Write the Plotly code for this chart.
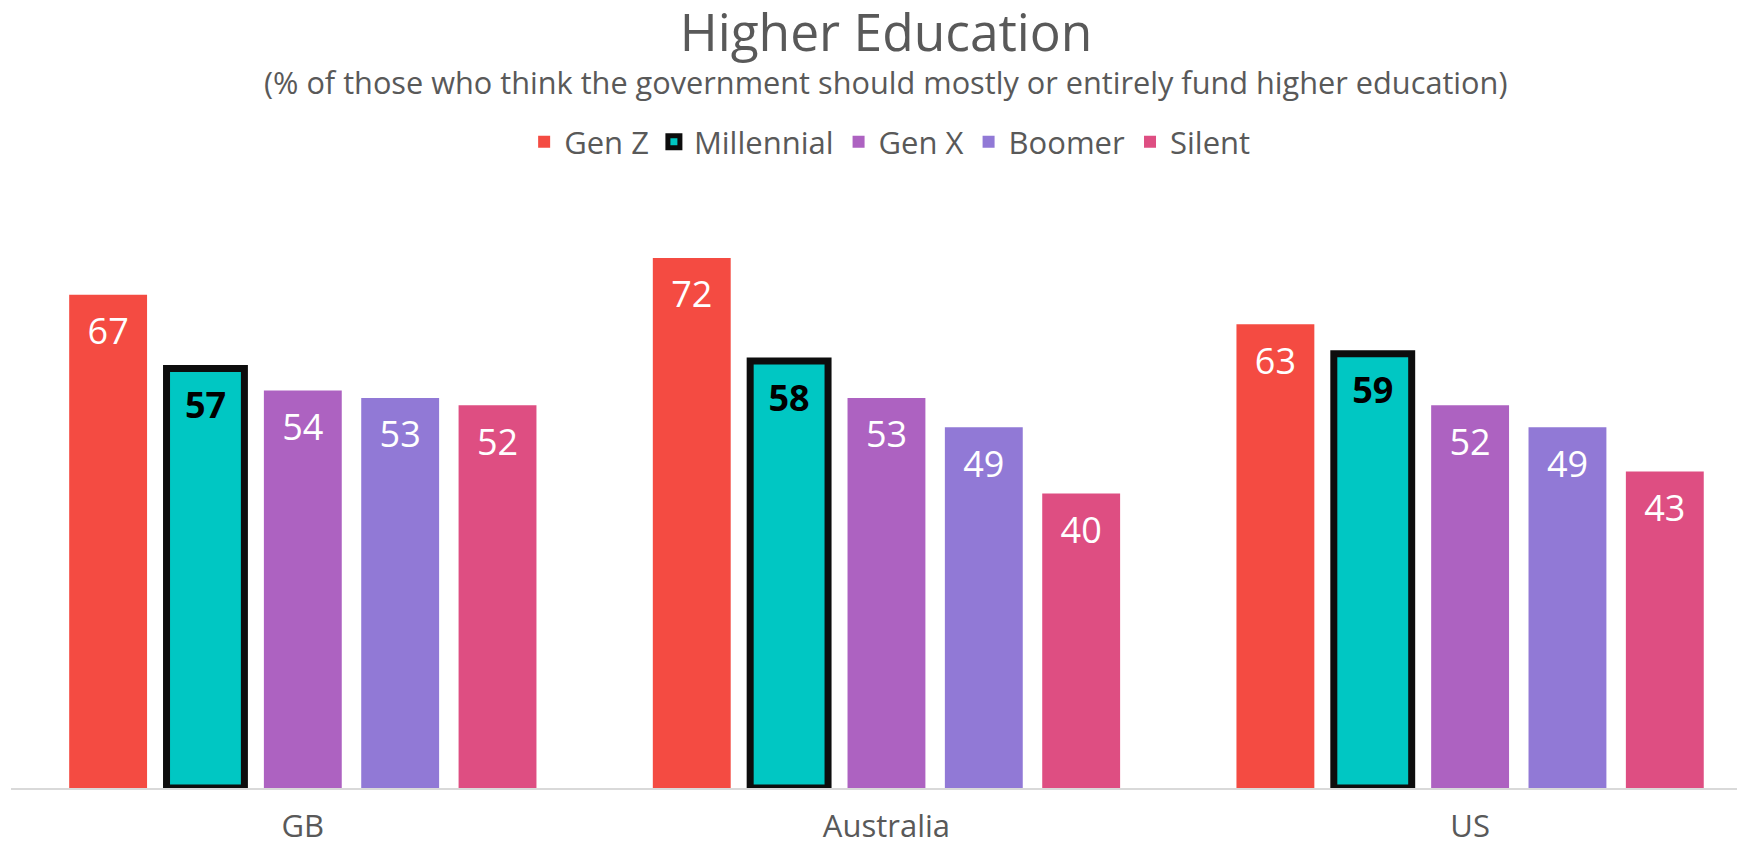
import plotly.graph_objects as go

countries = ["GB", "Australia", "US"]
series_names = ["Gen Z", "Millennial", "Gen X", "Boomer", "Silent"]
gen_z = [67, 72, 63]
millennial = [57, 58, 59]
gen_x = [54, 53, 52]
boomer = [53, 49, 49]
silent = [52, 40, 43]

values = [gen_z, millennial, gen_x, boomer, silent]
colors = ["#F44B42", "#00C7C3", "#AD62C1", "#9179D6", "#DE4E82"]

FONT = "Open Sans"
GRAY = "#595959"
LABEL_PAD = 1.15  # label offset below bar top, in data units (styling only)

fig = go.Figure()
for i, (name, vals, col) in enumerate(zip(series_names, values, colors)):
    is_mil = name == "Millennial"
    fig.add_trace(go.Bar(
        x=countries, y=vals, name=name, offsetgroup=str(i),
        marker=dict(color=col,
                    line=dict(color="#0D0D0D" if is_mil else col, width=7 if is_mil else 0)),
        hoverinfo="skip",
    ))
for i, (name, vals, col) in enumerate(zip(series_names, values, colors)):
    is_mil = name == "Millennial"
    fig.add_trace(go.Bar(
        x=countries, y=[v - LABEL_PAD for v in vals], offsetgroup=str(i),
        showlegend=False, hoverinfo="skip",
        marker=dict(color="rgba(0,0,0,0)", line=dict(width=0)),
        text=[str(v) for v in vals], textposition="inside", insidetextanchor="end",
        textangle=0, constraintext="none",
        insidetextfont=dict(family=FONT, size=36,
                            color="#000000" if is_mil else "#FFFFFF",
                            weight="bold" if is_mil else "normal"),
    ))

fig.update_layout(
    width=1737, height=836,
    paper_bgcolor="white", plot_bgcolor="white",
    barmode="group", bargap=0.166, bargroupgap=0.2,
    margin=dict(l=3, r=0, t=172, b=56, autoexpand=False),
    font=dict(family=FONT, color=GRAY),
    title=dict(text="Higher Education", x=0.5055, xanchor="center",
               y=0.9920, yanchor="top", yref="container",
               font=dict(family=FONT, size=51.5, color=GRAY)),
    legend=dict(orientation="h", x=0.507, xanchor="center", y=1.0625, yanchor="middle",
                yref="paper", font=dict(family=FONT, size=31, color=GRAY),
                itemwidth=30, bgcolor="rgba(0,0,0,0)"),
    xaxis=dict(range=[-0.5, 2.471], showgrid=False, showline=True,
               linecolor="#D9D9D9", linewidth=2, ticks="", ticklabelstandoff=10,
               tickfont=dict(family=FONT, size=31, color=GRAY)),
    yaxis=dict(range=[0, 82.6], visible=False, showgrid=False, zeroline=False),
    annotations=[dict(
        text="(% of those who think the government should mostly or entirely fund higher education)",
        xref="paper", yref="paper", x=0.5046, xanchor="center",
        y=1.162, yanchor="middle", showarrow=False,
        font=dict(family=FONT, size=30.7, color=GRAY))],
)

fig.write_html("out.html")
